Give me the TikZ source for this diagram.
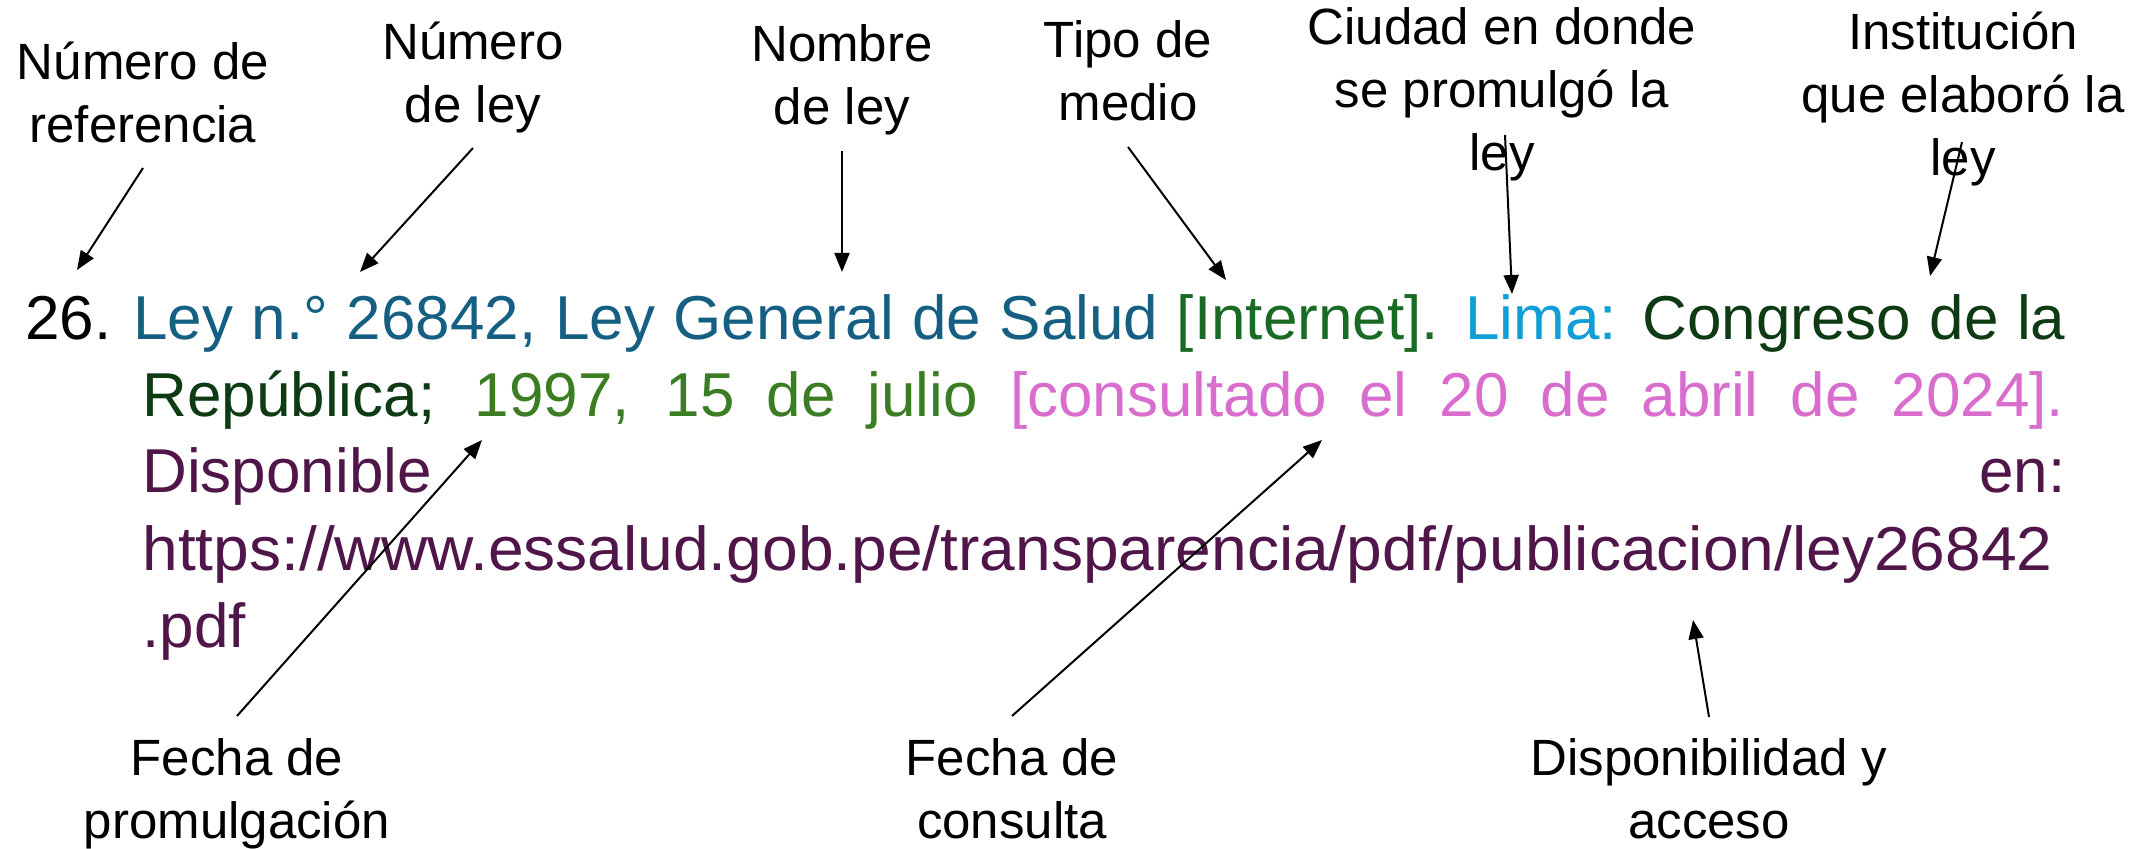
\documentclass[tikz,border=0pt]{standalone}
\usepackage{fontspec}
\setmainfont{Liberation Sans}
\usepackage{graphicx}
\usetikzlibrary{arrows.meta}
\definecolor{cLey}{HTML}{156082}
\definecolor{cMedio}{HTML}{196B24}
\definecolor{cLima}{HTML}{0F9ED5}
\definecolor{cInst}{HTML}{0E3A14}
\definecolor{cFecha}{HTML}{3A7D22}
\definecolor{cCons}{HTML}{D86DCD}
\definecolor{cDisp}{HTML}{501549}
\newcommand{\mainfs}{\fontsize{31}{38.5}\selectfont}
\newcommand{\labfs}{\fontsize{25.5}{31.5}\selectfont}
\newcommand{\lab}[1]{\begin{tabular}[t]{@{}c@{}}#1\end{tabular}}
\begin{document}
\begin{tikzpicture}[x=0.5pt,y=-0.5pt,
  txt/.style={inner sep=0pt, anchor=base west, font=\mainfs},
  lbl/.style={inner sep=0pt, anchor=base, font=\labfs},
  arr/.style={-{Triangle[length=9.5pt,width=7.5pt]}, line width=1pt}]
\useasboundingbox (0,0) rectangle (2156,849);
\fill[white] (0,0) rectangle (2156,849);

% main reference text
\node[txt] (num) at (25,340) {26.};
\node[txt] (l1) at (133,340) {\makebox[966pt][s]{\textcolor{cLey}{Ley n.° 26842, Ley General de Salud} \textcolor{cMedio}{[Internet].} \textcolor{cLima}{Lima:} \textcolor{cInst}{Congreso de la}}};
\node[txt] (l2) at (142,417) {\makebox[961pt][s]{\textcolor{cInst}{República;} \textcolor{cFecha}{1997, 15 de julio} \textcolor{cCons}{[consultado el 20 de abril de 2024].}}};
\node[txt, text=cDisp] (l3) at (142,493) {\makebox[961.5pt]{Disponible\hfill en:}};
\node[txt, text=cDisp] (l4) at (142,570) {\scalebox{1.034}[1]{https://www.essalud.gob.pe/transparencia/pdf/publicacion/ley26842}};
\node[txt, text=cDisp] (l5) at (142,647) {.pdf};

% labels
\node[lbl] (a1) at (143,80) {\lab{Número de\\referencia}};
\node[lbl] (a2) at (473,60) {\lab{Número\\de ley}};
\node[lbl] (a3) at (842,62) {\lab{Nombre\\de ley}};
\node[lbl] (a4) at (1128,58) {\lab{Tipo de\\medio}};
\node[lbl] (a5) at (1502,45) {\lab{Ciudad en donde\\se promulgó la\\ley}};
\node[lbl] (a6) at (1963,50) {\lab{Institución\\que elaboró la\\ley}};
\node[lbl] (b1) at (237,775) {\lab{Fecha de\\promulgación}};
\node[lbl] (b2) at (1012,775) {\lab{Fecha de\\consulta}};
\node[lbl] (b3) at (1709,775) {\lab{Disponibilidad y\\acceso}};

% arrow ends
\coordinate (a1s) at (143,168); \coordinate (a1e) at (77,270);
\coordinate (a2s) at (473,148); \coordinate (a2e) at (360,272);
\coordinate (a3s) at (842,151); \coordinate (a3e) at (842,272);
\coordinate (a4s) at (1128,147); \coordinate (a4e) at (1226,280);
\coordinate (a5s) at (1505,135); \coordinate (a5e) at (1512,294);
\coordinate (a6s) at (1962,142); \coordinate (a6e) at (1930,276);
\coordinate (b1s) at (237,716); \coordinate (b1e) at (482,440);
\coordinate (b2s) at (1012,716); \coordinate (b2e) at (1322,440);
\coordinate (b3s) at (1709,717); \coordinate (b3e) at (1693,620);

\draw[arr] (a1s) -- (a1e);
\draw[arr] (a2s) -- (a2e);
\draw[arr] (a3s) -- (a3e);
\draw[arr] (a4s) -- (a4e);
\draw[arr] (a5s) -- (a5e);
\draw[arr] (a6s) -- (a6e);
\draw[arr] (b1s) -- (b1e);
\draw[arr] (b2s) -- (b2e);
\draw[arr] (b3s) -- (b3e);
\end{tikzpicture}
\end{document}
